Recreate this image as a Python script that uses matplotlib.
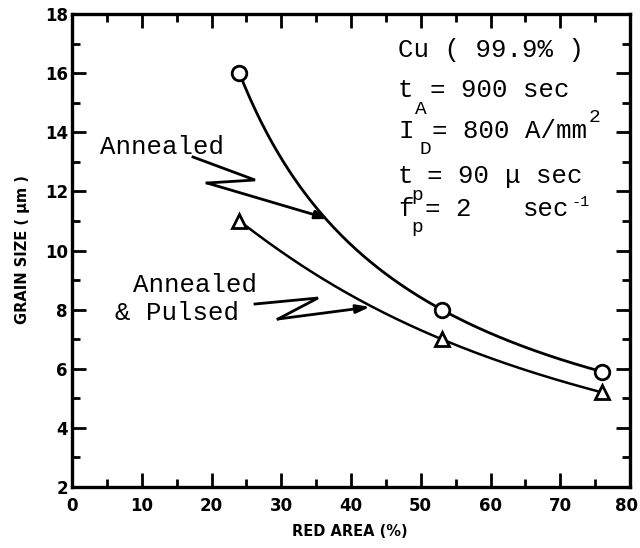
import numpy as np
import matplotlib
matplotlib.use("Agg")
import matplotlib.pyplot as plt
import matplotlib.transforms as mtransforms
from matplotlib.ticker import MultipleLocator

# ---- data ----
red_area = [24, 53, 76]
annealed = [16.0, 8.0, 5.9]
annealed_pulsed = [11.0, 7.0, 5.2]
x_ticks = [0, 10, 20, 30, 40, 50, 60, 70, 80]
y_ticks = [2, 4, 6, 8, 10, 12, 14, 16, 18]

mono = "Liberation Mono"

fig = plt.figure(figsize=(6.4, 5.48), dpi=100)
ax = fig.add_axes([72/640, 1-487/548, (630-72)/640, (487-14)/548])
ax.set_xlim(0, 80)
ax.set_ylim(2, 18)


def P(px, py):
    """reference pixel -> data coords (for placing annotations)"""
    return ((px - 72) / 6.975, 18 - (py - 14) / 29.5625)


def smooth(xs, ys):
    lx, ly = np.log(xs), np.log(ys)
    c = np.polyfit(lx, ly, 2)
    xx = np.linspace(xs[0], xs[-1], 200)
    return xx, np.exp(np.polyval(c, np.log(xx)))


xx, yy = smooth(red_area, annealed)
ax.plot(xx, yy, color="black", lw=2.0, zorder=2)
xx, yy = smooth(red_area, annealed_pulsed)
ax.plot(xx, yy, color="black", lw=1.8, zorder=2)

ax.plot(red_area, annealed, linestyle="none", marker="o", ms=10.5, mfc="white",
        mec="black", mew=2, zorder=3)
ax.plot(red_area, annealed_pulsed, linestyle="none", marker="^", ms=10.5, mfc="white",
        mec="black", mew=2, zorder=3)

# ---- zigzag arrows ----
def zigzag(pts_px):
    pts = [P(*p) for p in pts_px]
    xs = [p[0] for p in pts[:-1]]
    ys = [p[1] for p in pts[:-1]]
    ax.plot(xs, ys, color="black", lw=2, solid_joinstyle="miter", zorder=2)
    ax.annotate("", xy=pts[-1], xytext=pts[-2],
                arrowprops=dict(arrowstyle="-|>,head_length=0.8,head_width=0.25",
                                color="black", lw=2, shrinkA=0, shrinkB=0),
                zorder=2)

zigzag([(193, 157), (255, 180), (207, 183), (329, 219)])
zigzag([(255, 304), (318, 298), (278, 319), (370, 307)])

fs = 18.5
sub = 14


def T(px, py, s, size=fs):
    ax.text(*P(px, py), s, family=mono, fontsize=size, va="center", ha="left")


T(100, 147, "Annealed")
T(133, 285, "Annealed")
T(115, 313, "& Pulsed")

# ---- parameter block ----
T(398, 50, "Cu ( 99.9% )")
T(398, 90, "t")
T(415, 109, "A", sub)
T(430, 90, "= 900 sec")
T(398, 131, "I")
T(419, 150, "D", sub)
T(432, 131, "= 800 A/mm")
T(589, 117, "2", sub)
T(398, 176, "t")
T(411, 196, "p", sub)
T(427, 176, "= 90")
T(505, 176, "μ sec")
T(398, 209, "f")
T(411, 228, "p", sub)
T(425, 209, "= 2")
T(523, 209, "sec")
T(571, 202, "-1", 11)

# ---- axes styling ----
ax.set_xticks(x_ticks)
ax.set_yticks(y_ticks)
ax.xaxis.set_minor_locator(MultipleLocator(5))
ax.yaxis.set_minor_locator(MultipleLocator(1))
ax.tick_params(which="both", direction="in", top=True, right=True, width=2)
ax.tick_params(which="major", length=10)
ax.tick_params(which="minor", length=6)
ax.tick_params(axis="x", pad=7)
ax.tick_params(axis="y", pad=3)
for lab in ax.get_xticklabels() + ax.get_yticklabels():
    lab.set_fontweight("bold")
    lab.set_fontsize(12)
for sp in ax.spines.values():
    sp.set_linewidth(2.4)

# keep the last x tick label inside the canvas
fig.canvas.draw()
last = ax.get_xticklabels()[-1]
last.set_transform(last.get_transform() +
                   mtransforms.ScaledTranslation(-3/100, 0, fig.dpi_scale_trans))

fig.text(350/640, 1-531/548, "RED AREA (%)", fontsize=10.5, fontweight="bold",
         ha="center", va="center")
fig.text(23/640, 1-250/548, "GRAIN SIZE ( μm )", fontsize=10.5, fontweight="bold",
         ha="center", va="center", rotation=90)

fig.savefig("out.png", dpi=100)
